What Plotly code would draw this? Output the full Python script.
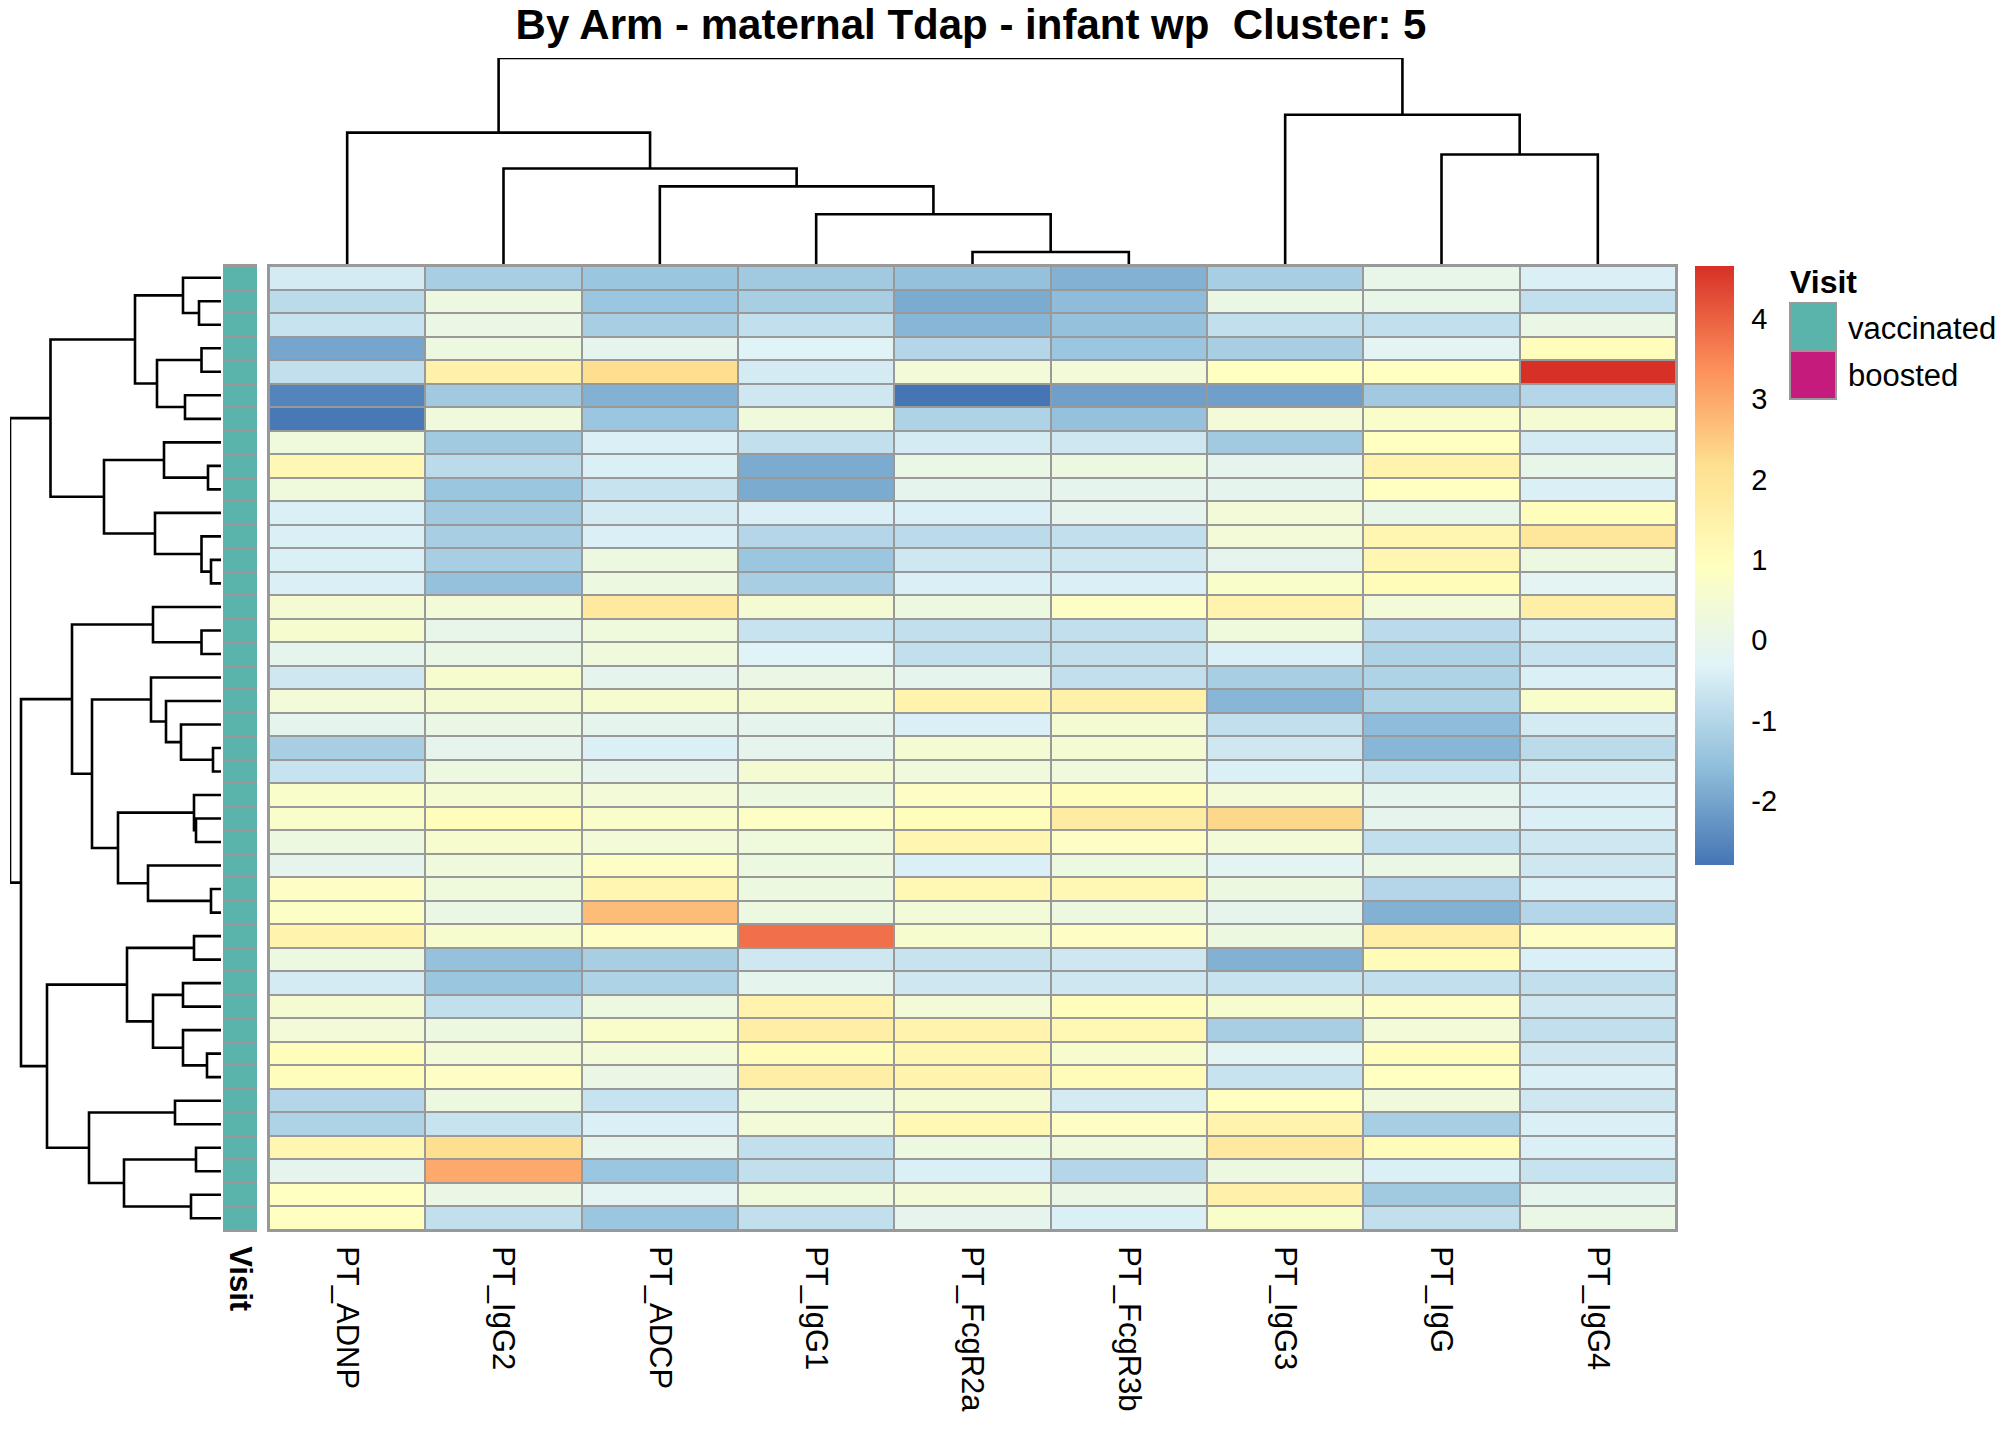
import plotly.graph_objects as go

# page is 2016x1440; the html body keeps an 8px margin around the figure
OFF = 8
W, H = 2016 - 2 * OFF, 1440 - 2 * OFF


def fx(px):
    return (px - OFF) / W


def fy(px):
    return 1 - (px - OFF) / H


# columns in clustered order
features = ["PT_ADNP", "PT_IgG2", "PT_ADCP", "PT_IgG1", "PT_FcgR2a",
            "PT_FcgR3b", "PT_IgG3", "PT_IgG", "PT_IgG4"]

# scaled values per feature, rows in clustered order (41 samples)
PT_ADNP = [-0.5, -0.9, -0.7, -2.0, -0.8, -2.55, -2.75, 0.3, 1.2, 0.3,
           -0.4, -0.4, -0.4, -0.4, 0.5, 0.6, -0.1, -0.6, 0.4, -0.1,
           -1.2, -0.7, 0.7, 0.7, 0.2, -0.1, 0.8, 0.8, 1.4, 0.2,
           -0.5, 0.5, 0.4, 1.0, 1.0, -1.0, -1.1, 1.3, -0.1, 0.9, 0.9]
PT_IgG2 = [-1.2, 0.2, 0.1, 0.2, 1.5, -1.3, 0.3, -1.3, -0.9, -1.4,
           -1.3, -1.2, -1.2, -1.5, 0.4, 0.0, 0.1, 0.6, 0.5, 0.1,
           -0.1, 0.2, 0.5, 1.0, 0.6, 0.3, 0.3, 0.1, 0.6, -1.5,
           -1.4, -0.8, 0.2, 0.4, 0.8, 0.2, -0.7, 2.2, 3.0, 0.1, -0.8]
PT_ADCP = [-1.4, -1.4, -1.2, -0.1, 2.2, -1.8, -1.4, -0.4, -0.4, -0.7,
           -0.5, -0.4, 0.2, 0.2, 1.8, 0.3, 0.3, -0.1, 0.6, -0.1,
           -0.4, -0.1, 0.4, 0.7, 0.4, 0.8, 1.3, 2.7, 0.8, -1.2,
           -1.1, 0.2, 0.7, 0.4, 0.1, -0.7, -0.4, -0.1, -1.4, -0.2, -1.4]
PT_IgG1 = [-1.3, -1.2, -0.8, -0.3, -0.5, -0.6, 0.3, -0.8, -1.9, -1.9,
           -0.4, -1.0, -1.4, -1.2, 0.5, -0.7, -0.3, 0.1, 0.5, -0.1,
           -0.1, 0.5, 0.2, 0.8, 0.3, 0.2, 0.2, 0.2, 3.8, -0.6,
           -0.1, 1.4, 1.6, 1.1, 1.6, 0.3, 0.4, -0.8, -0.8, 0.3, -0.8]
PT_FcgR2a = [-1.5, -1.9, -1.7, -1.0, 0.4, -2.8, -1.1, -0.5, 0.1, -0.1,
             -0.4, -0.9, -0.6, -0.4, 0.2, -0.8, -0.8, -0.1, 1.4, -0.4,
             0.5, 0.3, 0.8, 1.0, 1.3, -0.4, 1.2, 0.4, 0.6, -0.7,
             -0.6, 0.4, 1.4, 1.3, 1.4, 0.5, 1.2, 0.2, -0.4, 0.4, -0.1]
PT_FcgR3b = [-1.8, -1.6, -1.5, -1.4, 0.4, -2.1, -1.5, -0.6, 0.2, -0.1,
             -0.1, -0.8, -0.6, -0.4, 0.8, -0.8, -0.8, -0.8, 1.5, 0.5,
             0.5, 0.3, 1.0, 1.7, 0.8, 0.2, 1.2, 0.2, 0.8, -0.6,
             -0.6, 1.0, 1.2, 0.6, 1.1, -0.5, 0.8, 0.3, -1.0, 0.1, -0.4]
PT_IgG3 = [-1.2, 0.1, -0.8, -1.2, 0.9, -2.1, 0.4, -1.3, -0.1, -0.1,
           0.4, 0.4, -0.1, 0.7, 1.4, 0.3, -0.4, -1.2, -1.7, -0.8,
           -0.6, -0.4, 0.4, 2.3, 0.4, -0.2, 0.2, -0.1, 0.2, -1.8,
           -0.7, 0.6, -1.2, -0.2, -0.7, 0.9, 1.4, 1.8, 0.2, 1.5, 0.7]
PT_IgG = [0.0, 0.0, -0.8, -0.2, 0.9, -1.3, 0.7, 0.9, 1.4, 0.9,
          0.0, 1.3, 1.3, 1.1, 0.4, -0.9, -1.1, -1.1, -1.1, -1.6,
          -1.7, -0.7, -0.1, -0.1, -0.8, 0.1, -1.0, -1.8, 1.6, 1.1,
          -0.8, 0.8, 0.4, 1.0, 0.9, 0.3, -1.2, 1.1, -0.4, -1.3, -0.8]
PT_IgG4 = [-0.4, -0.8, 0.1, 1.0, 4.66, -1.0, 0.5, -0.5, 0.0, -0.4,
           1.0, 1.9, 0.2, -0.2, 1.6, -0.5, -0.7, -0.4, 0.7, -0.5,
           -0.9, -0.5, -0.4, -0.4, -0.6, -0.6, -0.4, -1.0, 0.8, -0.4,
           -0.8, -0.6, -0.8, -0.6, -0.4, -0.6, -0.4, -0.4, -0.7, -0.1, 0.1]

visit_levels = ["vaccinated", "boosted"]
visit_colors = ["#5AB4AC", "#C51B7D"]
sample_visit = ["vaccinated"] * 41

# hclust merges: (node, left, right, height); ints are leaf numbers (1-based)
row_merges = [
    ("A", 2, 3, 22), ("B", 1, "A", 38), ("C", 4, 5, 19.5), ("D", 6, 7, 36),
    ("E", "C", "D", 64), ("F", "B", "E", 86), ("G", 9, 10, 13),
    ("H", 8, "G", 57), ("I", 13, 14, 10), ("J", 12, "I", 19.5),
    ("K", 11, "J", 66), ("L", "H", "K", 117), ("M", "F", "L", 170.5),
    ("N", 16, 17, 19.5), ("O", 15, "N", 68), ("P", 21, 22, 8),
    ("Q", 20, "P", 40), ("R", 19, "Q", 55), ("S", 18, "R", 70),
    ("T", 24, 25, 25), ("U", 23, "T", 27), ("V", 27, 28, 10),
    ("W", 26, "V", 73), ("X", "U", "W", 103), ("Y", "S", "X", 129),
    ("Z", "O", "Y", 149), ("AA", 29, 30, 27), ("AB", 31, 32, 38),
    ("AC", 34, 35, 14), ("AD", 33, "AC", 38), ("AE", "AB", "AD", 68),
    ("AF", "AA", "AE", 94), ("AG", 36, 37, 46), ("AH", 38, 39, 25),
    ("AI", 40, 41, 30), ("AJ", "AH", "AI", 97), ("AK", "AG", "AJ", 132),
    ("AL", "AF", "AK", 174), ("AM", "Z", "AL", 200), ("ROOT", "M", "AM", 211),
]
col_merges = [
    ("c1", 5, 6, 12), ("c2", 4, "c1", 50), ("c3", 3, "c2", 78),
    ("c4", 2, "c3", 96), ("c5", 1, "c4", 132), ("c6", 8, 9, 110),
    ("c7", 7, "c6", 150), ("root", "c5", "c7", 207),
]

zmin, zmax = -2.8, 4.66
legend_ticks = [-2, -1, 0, 1, 2, 3, 4]
rdylbu_rev = ["#4575B4", "#91BFDB", "#E0F3F8", "#FFFFBF", "#FEE090", "#FC8D59", "#D73027"]
colorscale = [[i / 6, c] for i, c in enumerate(rdylbu_rev)]

font = "Liberation Sans, Arial, sans-serif"
GRID = "#999999"


def dendro(merges):
    pos, hgt = {}, {}
    a_pos, a_h = [], []
    for name, left, right, h in merges:
        pts = []
        for ch in (left, right):
            if isinstance(ch, int):
                pts.append((ch - 1, 0))
            else:
                pts.append((pos[ch], hgt[ch]))
        (p1, h1), (p2, h2) = pts
        a_pos += [p1, p1, p2, p2, None]
        a_h += [h1, h, h, h2, None]
        pos[name] = (p1 + p2) / 2
        hgt[name] = h
    return a_pos, a_h


cols = [PT_ADNP, PT_IgG2, PT_ADCP, PT_IgG1, PT_FcgR2a, PT_FcgR3b, PT_IgG3, PT_IgG, PT_IgG4]
z = [list(r) for r in zip(*cols)]
n_rows = len(z)

fig = go.Figure()

fig.add_trace(go.Heatmap(
    z=z, x=list(range(len(features))), y=list(range(n_rows)),
    colorscale=colorscale, zmin=zmin, zmax=zmax, xgap=2, ygap=2,
    xaxis="x", yaxis="y",
    colorbar=dict(
        x=fx(1695), xanchor="left", y=fy(266), yanchor="top",
        len=(865 - 266) / H, lenmode="fraction", thickness=39,
        outlinewidth=0, xpad=0, ypad=0,
        tickvals=legend_ticks, ticktext=[str(t) for t in legend_ticks],
        ticks="outside", ticklen=12,
        tickcolor="rgba(0,0,0,0)", tickfont=dict(size=29, family=font, color="black"),
    ),
))

visit_codes = [[visit_levels.index(v)] for v in sample_visit]
fig.add_trace(go.Heatmap(
    z=visit_codes, x=[0], y=list(range(n_rows)),
    colorscale=[[0, visit_colors[0]], [1, visit_colors[1]]], zmin=0, zmax=1,
    showscale=False, ygap=2, xaxis="x2", yaxis="y2",
))

rp, rh = dendro(row_merges)
fig.add_trace(go.Scatter(x=rh, y=rp, mode="lines", line=dict(color="black", width=2.6),
                         xaxis="x3", yaxis="y3", cliponaxis=False, showlegend=False,
                         hoverinfo="skip"))
cp, ch = dendro(col_merges)
fig.add_trace(go.Scatter(x=cp, y=ch, mode="lines", line=dict(color="black", width=2.6),
                         xaxis="x4", yaxis="y4", cliponaxis=False, showlegend=False,
                         hoverinfo="skip"))

hm_x = [fx(269), fx(1676)]
hm_y = [fy(1230), fy(266)]
border = dict(showline=True, mirror=True, linecolor=GRID, linewidth=2,
              showgrid=False, zeroline=False)

fig.update_layout(
    width=W, height=H, margin=dict(l=0, r=0, t=0, b=0),
    paper_bgcolor="white", plot_bgcolor="white", showlegend=False,
    font=dict(family=font, color="black"),
    title=dict(text="<b>By Arm - maternal Tdap - infant wp&nbsp; Cluster: 5</b>",
               x=fx(971), xanchor="center", y=fy(24), yanchor="middle",
               font=dict(size=42, family=font, color="black")),
    xaxis=dict(domain=hm_x, range=[-0.5, len(features) - 0.5],
               tickvals=list(range(len(features))), ticktext=features,
               tickangle=90, ticks="", ticklabelstandoff=8,
               tickfont=dict(size=31, family=font, color="black"), **border),
    yaxis=dict(domain=hm_y, range=[n_rows - 0.5, -0.5], showticklabels=False,
               ticks="", **border),
    xaxis2=dict(domain=[fx(223), fx(257)], range=[-0.5, 0.5], tickvals=[0],
                ticktext=["<b>Visit</b>"], tickangle=90, ticks="", ticklabelstandoff=8,
                tickfont=dict(size=31, family=font, color="black"), **border),
    yaxis2=dict(domain=hm_y, range=[n_rows - 0.5, -0.5], showticklabels=False,
                ticks="", **border),
    xaxis3=dict(domain=[fx(10), fx(221)], range=[211, 0], visible=False),
    yaxis3=dict(domain=hm_y, range=[n_rows - 0.5, -0.5], visible=False),
    xaxis4=dict(domain=hm_x, range=[-0.5, len(features) - 0.5], visible=False),
    yaxis4=dict(domain=[fy(264), fy(58)], range=[0, 207], visible=False),
)

# grey cell borders behind the heatmaps
for ax in ("x", "x2"):
    yr = "y" if ax == "x" else "y2"
    fig.add_shape(type="rect", xref=f"{ax} domain", yref=f"{yr} domain",
                  x0=0, x1=1, y0=0, y1=1, fillcolor=GRID, line_width=0, layer="below")

# annotation legend
fig.add_annotation(text="<b>Visit</b>", x=fx(1788), y=fy(282), xref="paper", yref="paper",
                   xanchor="left", yanchor="middle", showarrow=False,
                   font=dict(size=32, family=font, color="black"))
for i, (lvl, col) in enumerate(zip(visit_levels, visit_colors)):
    top = 303 + i * 48
    fig.add_shape(type="rect", xref="paper", yref="paper", x0=fx(1790), x1=fx(1836),
                  y0=fy(top + 48), y1=fy(top), fillcolor=col, line=dict(color=GRID, width=2))
    fig.add_annotation(text=lvl, x=fx(1846), y=fy(top + 25), xref="paper", yref="paper",
                       xanchor="left", yanchor="middle", showarrow=False,
                       font=dict(size=31, family=font, color="black"))

fig.write_html("out.html")
